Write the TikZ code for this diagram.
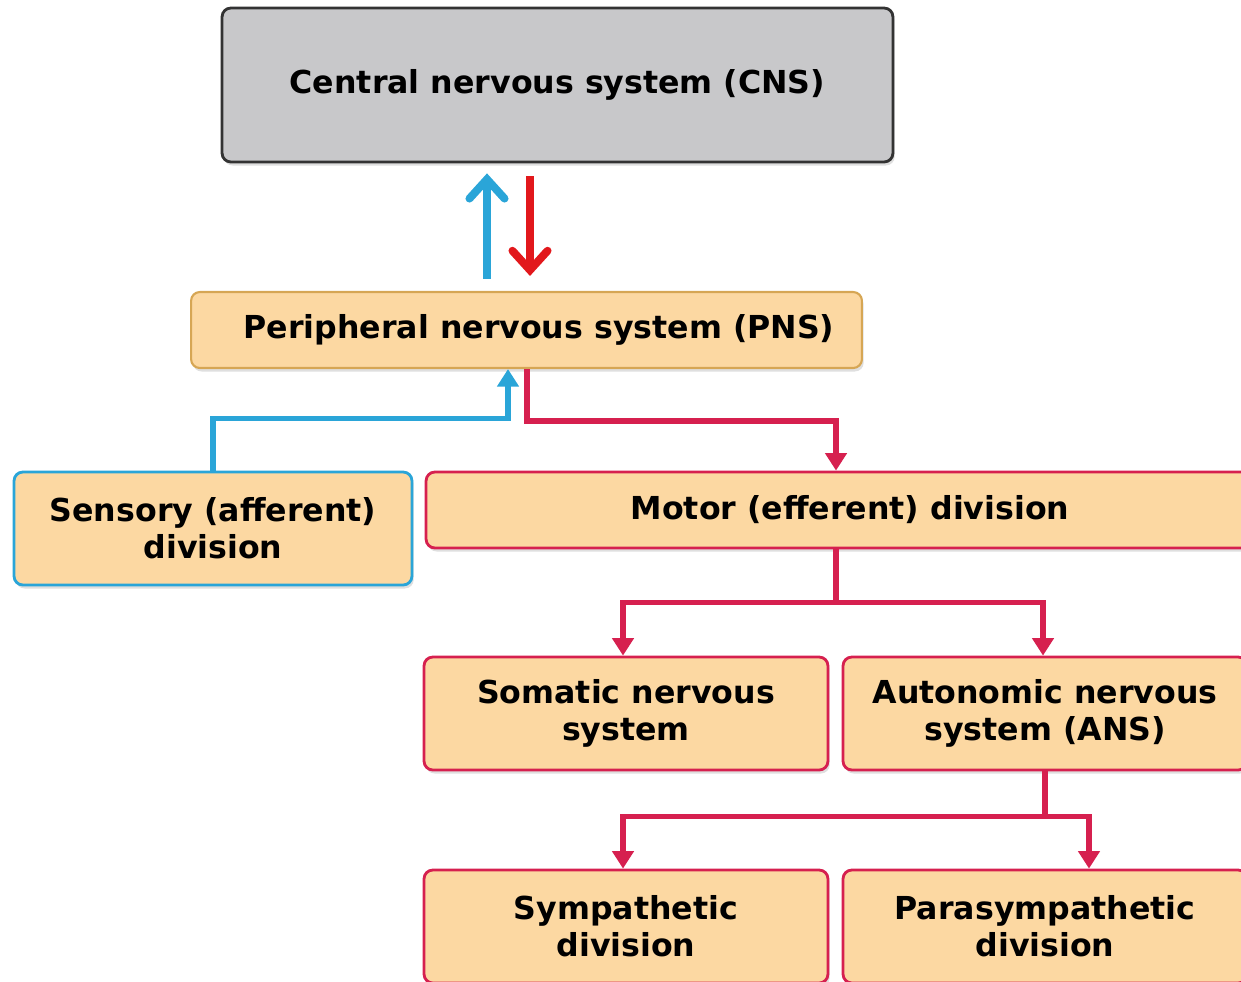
\documentclass[tikz,border=0pt]{standalone}
\usepackage{fontspec}
\setmainfont{DejaVu Sans}
\usetikzlibrary{arrows.meta, positioning, shadows}

\definecolor{peach}{RGB}{252,216,162}
\definecolor{cnsgray}{RGB}{200,200,202}
\definecolor{pnsedge}{RGB}{214,166,84}
\definecolor{skyblue}{RGB}{42,165,216}
\definecolor{crimson}{RGB}{214,32,79}
\definecolor{arrred}{RGB}{226,24,28}

\begin{document}
\begin{tikzpicture}[
    x=0.02cm, y=-0.02cm,
    lbl/.style={font=\fontsize{18}{21}\selectfont\bfseries, align=center, text=black},
    box/.style={rectangle, lbl, line width=1.6pt, rounded corners=5pt,
                drop shadow={opacity=0.25, shadow xshift=1pt, shadow yshift=-2pt}},
    cnsbox/.style={box, draw=black!80, fill=cnsgray, minimum width=13.42cm, minimum height=3.08cm},
    pnsbox/.style={box, draw=pnsedge, line width=1.2pt, fill=peach, minimum width=13.42cm, minimum height=1.52cm},
    sensbox/.style={box, draw=skyblue, fill=peach, minimum width=7.96cm, minimum height=2.26cm},
    motbox/.style={box, draw=crimson, fill=peach, minimum width=8.08cm, minimum height=2.26cm},
    bigarr/.style={line width=4.5pt, -{Straight Barb[length=11pt, width=20pt, line cap=round]}},
    sensarr/.style={draw=skyblue, line width=3pt, -{Triangle[length=10pt, width=12pt]}},
    motline/.style={draw=crimson, line width=3pt},
    motarr/.style={motline, -{Triangle[length=10pt, width=12pt]}},
]

\useasboundingbox (0,0) rectangle (1241,981);
\clip (0,0) rectangle (1241,981);

% CNS and PNS
\node[cnsbox] (cns) at (557.5,85) {Central nervous system (CNS)};
\node[pnsbox] (pns) at (526.5,330) {\hspace{0.5cm}Peripheral nervous system (PNS)};

% Divisions
\node[sensbox] (sens) at (213,528.5) {Sensory (afferent)\\division};
\node[motbox, minimum width=16.96cm, minimum height=1.52cm] (motor) at (850,510) {Motor (efferent) division};
\node[motbox] (som) at (626,713.5) {Somatic nervous\\system};
\node[motbox] (ans) at (1045,713.5) {Autonomic nervous\\system (ANS)};
\node[motbox] (symp) at (626,926.5) {Sympathetic\\division};
\node[motbox] (para) at (1045,926.5) {Parasympathetic\\division};

% Arrows between CNS and PNS
\coordinate (up) at (487,0);
\coordinate (dn) at (530,0);
\draw[bigarr, skyblue, shorten <=0.24cm, shorten >=0.2cm] (pns.north -| up) -- (cns.south -| up);
\draw[bigarr, arrred, shorten <=0.26cm, shorten >=0.3cm] (cns.south -| dn) -- (pns.north -| dn);

% Sensory and motor
\draw[sensarr] (sens.north) -- ++(0,-52) -| ([xshift=-0.37cm]pns.south);
\draw[motarr] ([xshift=0.01cm]pns.south) -- ++(0,52) -| ([xshift=-0.28cm]motor.north);

% Motor split
\draw[motline] ([xshift=-0.28cm]motor.south) -- ++(0,53) coordinate (msplit);
\draw[motarr] (msplit) -| ([xshift=-0.06cm]som.north);
\draw[motarr] (msplit) -| ([xshift=-0.04cm]ans.north);

% ANS split
\draw[motline] (ans.south) -- ++(0,45) coordinate (asplit);
\draw[motarr] (asplit) -| ([xshift=-0.06cm]symp.north);
\draw[motarr] (asplit) -| ([xshift=0.88cm]para.north);

\end{tikzpicture}
\end{document}
